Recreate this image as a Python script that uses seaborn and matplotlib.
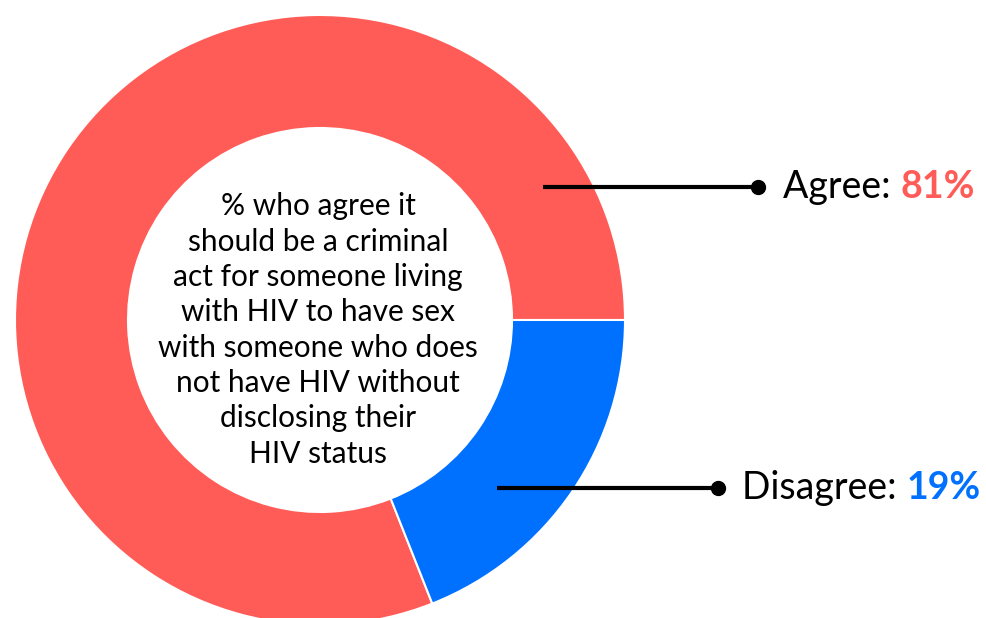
import matplotlib
matplotlib.use("Agg")
import matplotlib.pyplot as plt
import seaborn as sns

# data
labels = ["Agree", "Disagree"]
shares = [81, 19]
colors = ["#FF5C58", "#0070FF"]
center_text = ("% who agree it\nshould be a criminal\nact for someone living\n"
               "with HIV to have sex\nwith someone who does\nnot have HIV without\n"
               "disclosing their\nHIV status")

sns.set_theme(style="white")
plt.rcParams['font.family'] = ['Lato', 'DejaVu Sans']

W, H = 986, 618
fig = plt.figure(figsize=(W / 100, H / 100), dpi=100)
ax = fig.add_axes([0, 0, 1, 1])

# donut, pixel coords (y flipped)
cx, cy, r_out, r_in = 320, H - 320, 305, 192
ax.pie(shares, colors=colors, startangle=0, counterclock=True,
       center=(cx, cy), radius=r_out, frame=True,
       wedgeprops=dict(width=r_out - r_in, edgecolor='white', linewidth=1.5))
ax.set_xlim(0, W)
ax.set_ylim(0, H)
ax.set_aspect('equal')
ax.axis('off')

ax.text(cx - 2, H - 330, center_text, ha='center', va='center',
        fontsize=21.5, linespacing=1.32, color='black')

# leader lines + labels
leaders = [(543, 758, 187, 783), (497, 718, 488, 742)]
fig.canvas.draw()
renderer = fig.canvas.get_renderer()
for (x0, x1, ypx, tx), lab, sh, col in zip(leaders, labels, shares, colors):
    y = H - ypx
    ax.plot([x0, x1], [y, y], color='black', lw=3, solid_capstyle='butt')
    ax.plot([x1], [y], 'o', color='black', markersize=10)
    t = ax.text(tx, y, f"{lab}: ", ha='left', va='center', fontsize=27, color='black')
    bb = t.get_window_extent(renderer=renderer)
    ax.text(bb.x1, y, f"{sh}%", ha='left', va='center', fontsize=27,
            fontweight='bold', color=col)

fig.savefig("out.png", dpi=100, facecolor='white')
